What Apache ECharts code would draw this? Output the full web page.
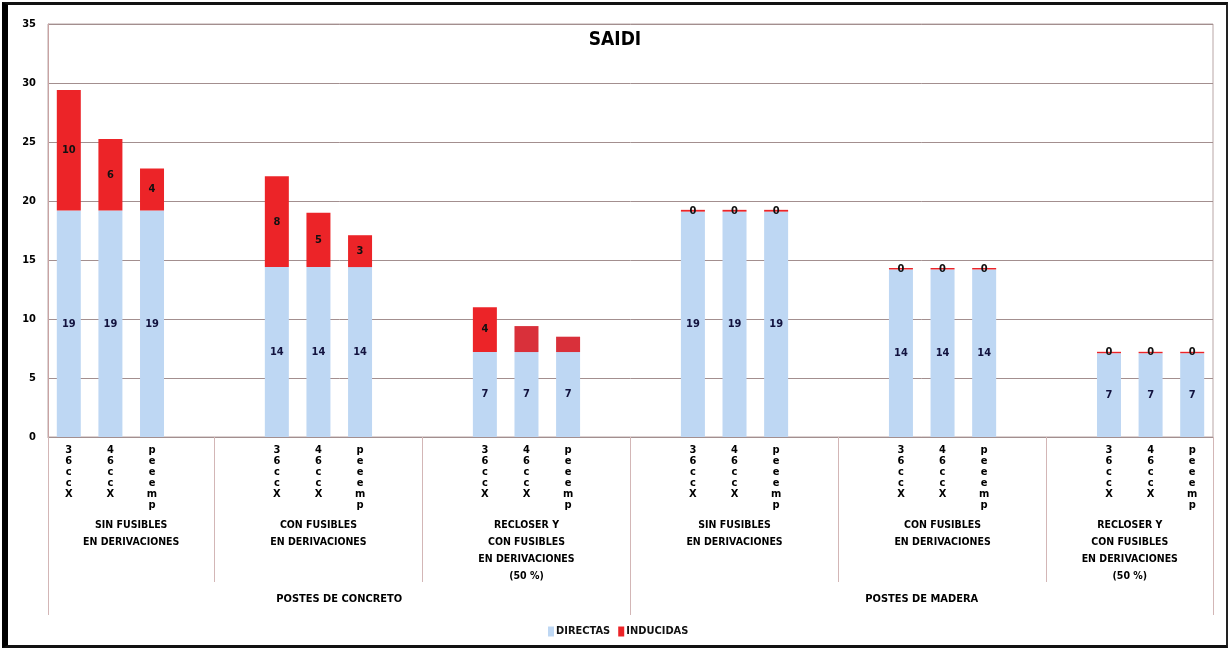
<!DOCTYPE html>
<html>
<head>
<meta charset="utf-8">
<script src="https://cdn.jsdelivr.net/npm/echarts@6/dist/echarts.min.js"></script>
<style>
  html, body { margin: 0; padding: 0; background: #fff; }
  #chart { width: 1230px; height: 650px; }
  #frame {
    position: absolute; left: 2px; top: 2px; width: 1226px; height: 646px;
    box-sizing: border-box; pointer-events: none;
    border-left: 6px solid #000; border-top: 3px solid #111;
    border-bottom: 3px solid #111; border-right: 2px solid #222;
  }
</style>
</head>
<body>
<div id="chart"></div>
<div id="frame"></div>
<script>
// SAIDI by pole type and protection scheme: direct vs induced outages
const caseLabels = ['36ccX', '46ccX', 'peeemp'];
const subgroupLabels = [
  'SIN FUSIBLES\nEN DERIVACIONES',
  'CON FUSIBLES\nEN DERIVACIONES',
  'RECLOSER Y\nCON FUSIBLES\nEN DERIVACIONES\n(50 %)',
  'SIN FUSIBLES\nEN DERIVACIONES',
  'CON FUSIBLES\nEN DERIVACIONES',
  'RECLOSER Y\nCON FUSIBLES\nEN DERIVACIONES\n(50 %)'
];
const posteLabels = ['POSTES DE CONCRETO', 'POSTES DE MADERA'];

// three cases per subgroup, subgroups in order
const directas = [
  19.2, 19.2, 19.2,
  14.4, 14.4, 14.4,
  7.2, 7.2, 7.2,
  19.1, 19.1, 19.1,
  14.2, 14.2, 14.2,
  7.1, 7.1, 7.1
];
const inducidas = [
  10.2, 6.05, 3.55,
  7.7, 4.6, 2.7,
  3.8, 2.2, 1.3,
  0.15, 0.15, 0.15,
  0.12, 0.12, 0.12,
  0.12, 0.12, 0.12
];
const inducidasLabeled = [
  true, true, true,
  true, true, true,
  true, false, false,
  true, true, true,
  true, true, true,
  true, true, true
];
const yMax = 35;
const yStep = 5;

// category slots along the x axis: 3 bars per subgroup plus spacer slots
const SLOTS = 28;
const groupBounds = [0, 4, 9, 14, 19, 24, 28];
const barStart = [0, 5, 10, 15, 20, 25];
const shortSeparators = [4, 9, 19, 24];

const FONT = "'Liberation Sans Narrow', 'DejaVu Sans Condensed', 'Liberation Sans', Arial, sans-serif";
const BLUE = '#bed7f3';
const RED = '#ec2428';
const RED_DARK = '#d9303a';

const slotCats = [];
const slotLabels = [];
const dirData = [];
const indData = [];
for (let s = 0; s < SLOTS; s++) {
  slotCats.push('s' + s);
  slotLabels.push('');
  dirData.push('-');
  indData.push('-');
}
barStart.forEach((start, g) => {
  for (let k = 0; k < 3; k++) {
    const s = start + k;
    const i = g * 3 + k;
    slotLabels[s] = caseLabels[k].split('').join('\n');
    dirData[s] = directas[i];
    indData[s] = {
      value: inducidas[i],
      itemStyle: { color: (g === 2 && k > 0) ? RED_DARK : RED },
      label: { show: inducidasLabeled[i] }
    };
  }
});

// label lookup for the group-name axes (value positions in slot units)
const subgroupAt = {};
for (let g = 0; g < subgroupLabels.length; g++) {
  subgroupAt[(groupBounds[g] + groupBounds[g + 1]) / 2] = subgroupLabels[g];
}
const posteAt = {};
posteAt[(groupBounds[0] + groupBounds[3]) / 2] = posteLabels[0];
posteAt[(groupBounds[3] + groupBounds[6]) / 2] = posteLabels[1];

const sepColor = '#d3b6b6';
const gridColor = '#a38f8f';

const chart = echarts.init(document.getElementById('chart'));
chart.setOption({
  animation: false,
  title: {
    text: 'SAIDI', left: 'center', top: 26,
    textStyle: { fontFamily: FONT, fontSize: 19, fontWeight: 'bold', color: '#000' }
  },
  legend: {
    data: ['DIRECTAS', 'INDUCIDAS'],
    left: 543, top: 621,
    icon: 'rect', itemWidth: 6, itemHeight: 10, itemGap: 8,
    textStyle: { fontFamily: FONT, fontSize: 11, fontWeight: 'bold', color: '#111', padding: [0, 0, 0, -3] }
  },
  grid: {
    left: 48, right: 17, top: 24, bottom: 213,
    show: true, borderColor: '#b9a6a6', borderWidth: 1
  },
  yAxis: {
    type: 'value', min: 0, max: yMax, interval: yStep,
    axisLine: { show: true, lineStyle: { color: '#c9a3a3' } },
    axisTick: { show: false },
    axisLabel: { margin: 12, fontFamily: FONT, fontSize: 11, fontWeight: 'bold', color: '#000' },
    splitLine: { lineStyle: { color: gridColor, width: 1 } }
  },
  xAxis: [
    {
      type: 'category', data: slotCats, position: 'bottom',
      axisLine: { show: true, lineStyle: { color: gridColor } },
      axisTick: {
        show: true, length: 145,
        interval: (i) => shortSeparators.indexOf(i) >= 0,
        lineStyle: { color: sepColor }
      },
      axisLabel: {
        interval: 0, margin: 8,
        formatter: (v, i) => slotLabels[i],
        fontFamily: FONT, fontSize: 11, fontWeight: 'bold', lineHeight: 11, color: '#000'
      }
    },
    {
      // outer edges and the split between the two pole types
      type: 'value', min: 0, max: SLOTS, interval: SLOTS / 2, position: 'bottom',
      axisLine: { show: false },
      axisTick: { show: true, length: 178, lineStyle: { color: sepColor } },
      axisLabel: { show: false },
      splitLine: { show: false }
    },
    {
      type: 'value', min: 0, max: SLOTS, interval: 0.5, position: 'bottom',
      axisLine: { show: false }, axisTick: { show: false }, splitLine: { show: false },
      axisLabel: {
        margin: 80, formatter: (v) => subgroupAt[v] || '',
        fontFamily: FONT, fontSize: 10.5, fontWeight: 'bold', lineHeight: 17, color: '#000'
      }
    },
    {
      type: 'value', min: 0, max: SLOTS, interval: 0.5, position: 'bottom',
      axisLine: { show: false }, axisTick: { show: false }, splitLine: { show: false },
      axisLabel: {
        margin: 157, formatter: (v) => posteAt[v] || '',
        fontFamily: FONT, fontSize: 11, fontWeight: 'bold', color: '#000'
      }
    }
  ],
  series: [
    {
      name: 'DIRECTAS', type: 'bar', stack: 'saidi', xAxisIndex: 0,
      barWidth: 24, data: dirData,
      itemStyle: { color: BLUE },
      label: {
        show: true, position: 'inside', formatter: (p) => Math.round(p.value),
        fontFamily: FONT, fontSize: 11, fontWeight: 'bold', color: '#12123e'
      }
    },
    {
      name: 'INDUCIDAS', type: 'bar', stack: 'saidi', xAxisIndex: 0,
      barWidth: 24, data: indData,
      itemStyle: { color: RED },
      label: {
        show: true, position: 'inside', formatter: (p) => Math.round(p.value),
        fontFamily: FONT, fontSize: 11, fontWeight: 'bold', color: '#111'
      }
    }
  ]
});
</script>
</body>
</html>
